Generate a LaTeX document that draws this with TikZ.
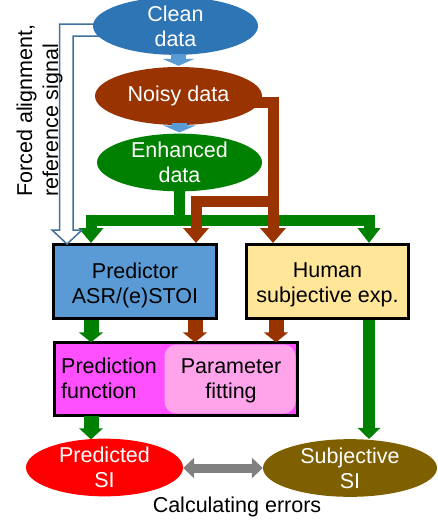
\documentclass[tikz,border=0pt]{standalone}
\usepackage{fontspec}
\setmainfont{Liberation Sans}
\usetikzlibrary{arrows.meta,shapes.geometric}
\definecolor{cleanblue}{HTML}{2E75B6}
\definecolor{noisybrown}{HTML}{993300}
\definecolor{enhgreen}{HTML}{008000}
\definecolor{predblue}{HTML}{5B9BD5}
\definecolor{humanyellow}{HTML}{FFE699}
\definecolor{predmag}{HTML}{FF50FF}
\definecolor{parampink}{HTML}{FFA3EB}
\definecolor{subjolive}{HTML}{7F6000}
\definecolor{outlineblue}{HTML}{41719C}
\definecolor{arrowblue}{HTML}{5B9BD5}
\definecolor{errgray}{HTML}{808080}
\begin{document}
\begin{tikzpicture}[x=1pt,y=-1pt,
  font=\fontsize{21.5}{25}\selectfont,
  oval/.style={ellipse, inner sep=0pt, text=white, align=center},
  box/.style={draw=black, line width=3pt, inner sep=0pt},
  txt/.style={inner sep=0pt, align=center, text=black},
  bluearr/.style={arrowblue, line width=15pt, -{Triangle[width=32pt,length=7pt]}},
  gline/.style={enhgreen, line width=11pt, line join=miter},
  bline/.style={noisybrown, line width=11pt, line join=miter},
  garrow/.style={enhgreen, line width=15pt, -{Triangle[width=24pt,length=10pt]}},
  barrow/.style={noisybrown, line width=15pt, -{Triangle[width=24pt,length=10pt]}},
]
\useasboundingbox (0,0) rectangle (438,522);

% boxes
\node[box, fill=predblue, minimum width=163pt, minimum height=74pt] (pred) at (135,281.5) {};
\node[box, fill=humanyellow, minimum width=162pt, minimum height=74pt] (human) at (327.5,281.5) {};
\node[txt] (predtxt) at ([yshift=-3.5pt]pred.center) {Predictor\\ASR/(e)STOI};
\node[txt] (humantxt) at ([yshift=-3pt]human.center) {Human\\subjective exp.};

\node[inner sep=0pt, fill=predmag, minimum width=243pt, minimum height=73pt] (predfun) at (176,379) {};
\node[inner sep=0pt, fill=parampink, rounded corners=12pt, minimum width=131pt, minimum height=69pt] (param) at (230,379) {};
\draw[black, line width=3pt] (predfun.north west) rectangle (predfun.south east);
\node[txt, align=left, anchor=west] (pftxt) at (61,378.7) {Prediction\\function};
\node[txt] (paramtxt) at (231,380.5) {Parameter\\fitting};

% coordinates for connector ends
\coordinate (gj) at (179.5,220);
\coordinate (gl) at (91,243);
\coordinate (gr) at (369,243);
\coordinate (nb) at (250,102);
\coordinate (bc) at (273,102);
\coordinate (br) at (273,243);
\coordinate (bm) at (273,201);
\coordinate (bl) at (196,243);

% green network
\draw[gline] (179.5,185) -- (gj);
\draw[gline, {Triangle[width=24pt,length=15pt]}-{Triangle[width=22pt,length=15pt]}] (gl) -- (gl |- gj) -- (gr |- gj) -- (gr);
% brown network
\draw[bline, -{Triangle[width=25pt,length=15pt]}] (nb) -- (bc) -- (br);
\draw[bline, -{Triangle[width=25pt,length=15pt]}] (bm) -| (bl);

% hollow arrow (forced alignment)
\draw[outlineblue, line width=1.5pt, fill=white, line join=miter]
  (100,24) -- (59.5,24) -- (59.5,230) -- (52,230) -- (67,244) -- (82,230) -- (73,230) -- (73,36) -- (105,36);

% ellipses
\node[oval, fill=cleanblue, minimum width=165pt, minimum height=54pt] (clean) at (175.5,26) {Clean\\data};
\node[oval, fill=noisybrown, minimum width=167pt, minimum height=58pt] (noisy) at (178.5,96) {Noisy data};
\node[oval, fill=enhgreen, minimum width=165pt, minimum height=55pt] (enh) at (179.5,162.5) {Enhanced\\data};

% blue arrows between ellipses
\draw[bluearr] ([yshift=1pt]noisy.north |- clean.south) -- ([yshift=1pt]noisy.north);
\draw[bluearr] ([yshift=2pt]enh.north |- noisy.south) -- ([yshift=1pt]enh.north);

% lower arrows
\draw[garrow] (pred.south -| gl) -- (predfun.north -| gl);
\draw[barrow] (pred.south -| 195,0) -- (predfun.north -| 195,0);
\draw[barrow] (human.south -| 276,0) -- (predfun.north -| 276,0);

% result ovals
\node[oval, fill=red, minimum width=157pt, minimum height=56pt] (psi) at (104.5,467.5) {Predicted\\SI};
\node[oval, fill=subjolive, minimum width=174pt, minimum height=54pt] (ssi) at (350,468) {Subjective\\SI};

\draw[enhgreen, line width=12pt, -{Triangle[width=22pt,length=11pt]}] (human.south -| gr) -- (ssi.north -| gr);
\draw[enhgreen, line width=15pt, -{Triangle[width=23pt,length=11pt]}] (predfun.south -| gl) -- ([yshift=-1pt]psi.north -| gl);

\draw[errgray, line width=9pt, {Triangle[width=20pt,length=11pt]}-{Triangle[width=20pt,length=11pt]}] (psi.east |- 0,468) -- (ssi.west |- 0,468);
\node[txt] (calc) at (237,506.5) {Calculating errors};

% rotated label
\node[rotate=90, anchor=west, align=left, inner sep=0pt, font=\fontsize{21.5}{26}\selectfont] (fa) at (39.5,197) {Forced alignment,\\reference signal};
\end{tikzpicture}
\end{document}
